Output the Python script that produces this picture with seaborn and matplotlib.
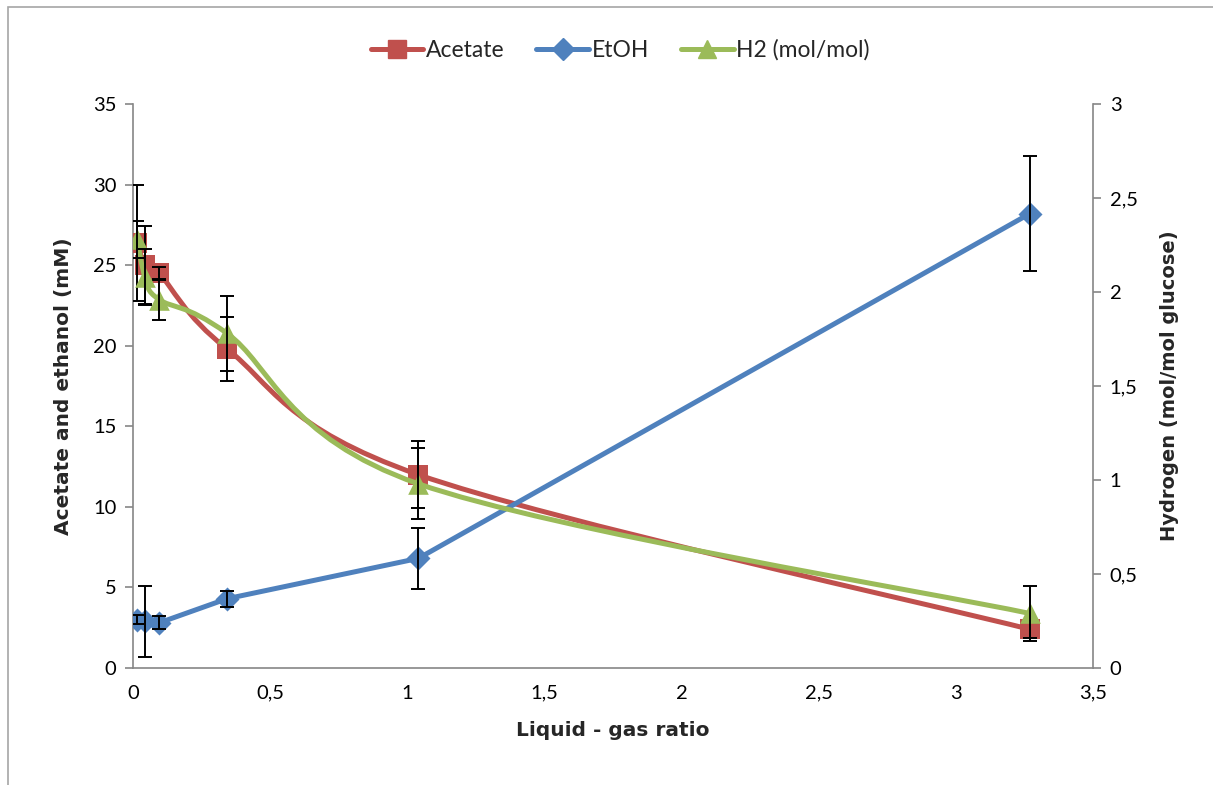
import matplotlib
matplotlib.use('Agg')
import matplotlib.pyplot as plt
import seaborn as sns
import numpy as np
from matplotlib.path import Path
from matplotlib.patches import PathPatch, Rectangle
from matplotlib.lines import Line2D
from matplotlib.ticker import FuncFormatter

# values
ratio = [0.015, 0.044, 0.095, 0.343, 1.04, 3.27]
acetate = [26.4, 25.0, 24.5, 19.8, 12.0, 2.4]
acetate_err = [3.6, 2.4, 0.4, 2.0, 2.1, 0.55]
etoh = [3.0, 2.9, 2.8, 4.3, 6.8, 28.2]
etoh_err = [0.3, 2.2, 0.4, 0.5, 1.9, 3.55]
h2 = [2.28, 2.08, 1.96, 1.78, 0.98, 0.29]
h2_err = [0.1, 0.15, 0.11, 0.2, 0.19, 0.145]

x_ticks = [0, 0.5, 1, 1.5, 2, 2.5, 3, 3.5]
left_ticks = [0, 5, 10, 15, 20, 25, 30, 35]
right_ticks = [0, 0.5, 1, 1.5, 2, 2.5, 3]

RED = '#C0504D'
BLUE = '#4F81BD'
GREEN = '#9BBB59'
GRAY = '#868686'
LW = 3.6

sns.set_style('white')
plt.rcParams['font.family'] = ['Lato', 'DejaVu Sans']


def smooth_path(x, y):
    # Excel-style smoothed line: cubic Bezier through the data points
    pts = np.column_stack([x, y])
    n = len(pts)
    verts = [pts[0]]
    codes = [Path.MOVETO]
    for i in range(n - 1):
        p0 = pts[max(i - 1, 0)]
        p1 = pts[i]
        p2 = pts[i + 1]
        p3 = pts[min(i + 2, n - 1)]
        verts += [p1 + (p2 - p0) / 6, p2 - (p3 - p1) / 6, p2]
        codes += [Path.CURVE4] * 3
    return Path(verts, codes)


comma = FuncFormatter(lambda v, p: f'{v:g}'.replace('.', ','))

fig = plt.figure(figsize=(12.13, 7.85), dpi=100)
ax = fig.add_axes([133 / 1213, 1 - 668 / 785, (1093 - 133) / 1213, (668 - 104) / 785])
ax2 = ax.twinx()

# left axis series
ax.add_patch(PathPatch(smooth_path(ratio, acetate), fill=False, edgecolor=RED, lw=LW,
                       capstyle='round', joinstyle='round', zorder=2))
ax.plot(ratio, etoh, color=BLUE, lw=LW, solid_capstyle='round', zorder=2)
sns.scatterplot(x=ratio, y=acetate, marker='s', s=190, color=RED, linewidth=0, ax=ax, zorder=3)
sns.scatterplot(x=ratio, y=etoh, marker='D', s=150, color=BLUE, linewidth=0, ax=ax, zorder=3)
ax.errorbar(ratio, acetate, yerr=acetate_err, fmt='none', ecolor='black', elinewidth=1.4,
            capsize=5, capthick=1.4, zorder=4)
ax.errorbar(ratio, etoh, yerr=etoh_err, fmt='none', ecolor='black', elinewidth=1.4,
            capsize=5, capthick=1.4, zorder=4)

# right axis series
ax2.add_patch(PathPatch(smooth_path(ratio, h2), fill=False, edgecolor=GREEN, lw=LW,
                        capstyle='round', joinstyle='round', zorder=2))
sns.scatterplot(x=ratio, y=h2, marker='^', s=220, color=GREEN, linewidth=0, ax=ax2, zorder=3)
ax2.errorbar(ratio, h2, yerr=h2_err, fmt='none', ecolor='black', elinewidth=1.4,
             capsize=5, capthick=1.4, zorder=4)

ax.set_xlim(0, 3.5)
ax.set_ylim(0, 35)
ax2.set_ylim(0, 3)
ax.set_xticks(x_ticks)
ax.set_yticks(left_ticks)
ax2.set_yticks(right_ticks)
ax.xaxis.set_major_formatter(comma)
ax2.yaxis.set_major_formatter(comma)

for a in (ax, ax2):
    a.spines['top'].set_visible(False)
    for s in ('left', 'right', 'bottom'):
        a.spines[s].set_color(GRAY)
        a.spines[s].set_linewidth(1.2)
    a.tick_params(direction='out', length=6, width=1.2, color=GRAY, labelsize=14.5,
                  labelcolor='black', pad=6)
ax2.spines['left'].set_visible(False)
ax.spines['right'].set_visible(False)
ax2.spines['bottom'].set_visible(False)

label_font = dict(family=['DejaVu Sans'], fontweight='bold')
ax.set_xlabel('Liquid - gas ratio', fontsize=14.5, labelpad=14, **label_font)
ax.set_ylabel('Acetate and ethanol (mM)', fontsize=14.5, labelpad=14, **label_font)
ax2.set_ylabel('Hydrogen (mol/mol glucose)', fontsize=14, labelpad=16, rotation=90,
               **label_font)

handles = [
    Line2D([], [], color=RED, lw=LW, marker='s', markersize=13),
    Line2D([], [], color=BLUE, lw=LW, marker='D', markersize=11),
    Line2D([], [], color=GREEN, lw=LW, marker='^', markersize=13),
]
fig.legend(handles, ['Acetate', 'EtOH', 'H2 (mol/mol)'], loc='center', ncol=3,
           bbox_to_anchor=(620 / 1213, 1 - 50 / 785), frameon=False, fontsize=16.5,
           handlelength=2.3, handletextpad=0.1, columnspacing=1.4)

# chart area border
fig.add_artist(Rectangle((8 / 1213, -0.05), 1.1, 1 - 7 / 785 + 0.05, transform=fig.transFigure,
                         fill=False, edgecolor='#A6A6A6', lw=1.2))

fig.savefig('out.png', dpi=100)
